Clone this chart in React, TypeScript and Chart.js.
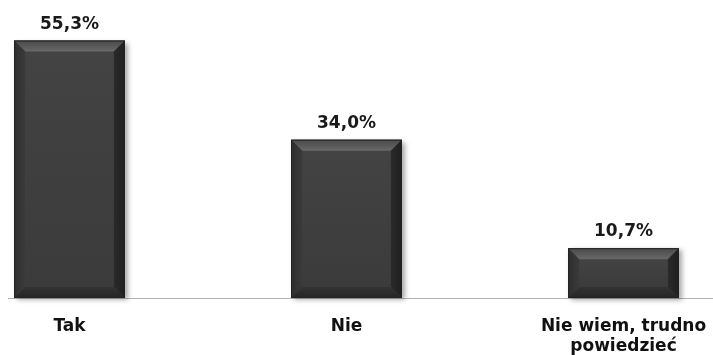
import React, { useEffect, useRef } from "react";
import { Chart, registerables } from "chart.js";

Chart.register(...registerables);

const categories: (string | string[])[] = ["Tak", "Nie", ["Nie wiem, trudno", "powiedzieć"]];
const values: number[] = [55.3, 34.0, 10.7];
const valueLabels: string[] = ["55,3%", "34,0%", "10,7%"];

const FONT = "'DejaVu Sans', sans-serif";

const bevelPlugin = {
  id: "bevel",
  beforeDatasetsDraw(chart: any) {
    const ctx = chart.ctx;
    const meta = chart.getDatasetMeta(0);
    meta.data.forEach((bar: any) => {
      const { x, y, base, width } = bar.getProps(["x", "y", "base", "width"], true);
      const l = x - width / 2;
      ctx.save();
      ctx.shadowColor = "rgba(0,0,0,0.35)";
      ctx.shadowBlur = 5;
      ctx.shadowOffsetX = 3;
      ctx.shadowOffsetY = 2;
      ctx.fillStyle = "#3e3e3e";
      ctx.fillRect(l, y, width, base - y);
      ctx.restore();
    });
  },
  afterDatasetsDraw(chart: any) {
    const ctx = chart.ctx;
    const meta = chart.getDatasetMeta(0);
    meta.data.forEach((bar: any, i: number) => {
      const { x, y, base, width } = bar.getProps(["x", "y", "base", "width"], true);
      const l = x - width / 2;
      const r = x + width / 2;
      const t = y;
      const bt = base;
      const b = 11;
      const poly = (pts: number[][], fill: any) => {
        ctx.beginPath();
        ctx.moveTo(pts[0][0], pts[0][1]);
        for (let k = 1; k < pts.length; k++) ctx.lineTo(pts[k][0], pts[k][1]);
        ctx.closePath();
        ctx.fillStyle = fill;
        ctx.fill();
      };
      ctx.save();
      const gF = ctx.createLinearGradient(0, t + b, 0, bt - b);
      gF.addColorStop(0, "#434343");
      gF.addColorStop(1, "#3b3b3b");
      ctx.fillStyle = gF;
      ctx.fillRect(l + b, t + b, width - 2 * b, bt - t - 2 * b);
      const gTop = ctx.createLinearGradient(0, t, 0, t + b);
      gTop.addColorStop(0, "#4a4a4a");
      gTop.addColorStop(0.7, "#5e5e5e");
      gTop.addColorStop(1, "#6a6a6a");
      poly([[l, t], [r, t], [r - b, t + b], [l + b, t + b]], gTop);
      const gL = ctx.createLinearGradient(l, 0, l + b, 0);
      gL.addColorStop(0, "#2e2e2e");
      gL.addColorStop(1, "#3a3a3a");
      poly([[l, t], [l + b, t + b], [l + b, bt - b], [l, bt]], gL);
      const gR = ctx.createLinearGradient(r - b, 0, r, 0);
      gR.addColorStop(0, "#2a2a2a");
      gR.addColorStop(1, "#1f1f1f");
      poly([[r, t], [r, bt], [r - b, bt - b], [r - b, t + b]], gR);
      const gB = ctx.createLinearGradient(0, bt - b, 0, bt);
      gB.addColorStop(0, "#333333");
      gB.addColorStop(1, "#252525");
      poly([[l, bt], [r, bt], [r - b, bt - b], [l + b, bt - b]], gB);
      ctx.strokeStyle = "#232323";
      ctx.lineWidth = 1;
      ctx.strokeRect(l + 0.5, t + 0.5, width - 1, bt - t - 1);
      ctx.fillStyle = "#1a1a1a";
      ctx.font = `bold 17px ${FONT}`;
      ctx.textAlign = "center";
      ctx.textBaseline = "alphabetic";
      ctx.fillText(valueLabels[i], x, t - 12);
      ctx.restore();
    });
  },
};

export default function App() {
  const ref = useRef<HTMLCanvasElement | null>(null);
  useEffect(() => {
    if (!ref.current) return;
    const chart = new Chart(ref.current, {
      type: "bar",
      data: {
        labels: categories as any,
        datasets: [
          {
            data: values,
            backgroundColor: "rgba(0,0,0,0)",
            borderWidth: 0,
            categoryPercentage: 1,
            barPercentage: 0.4,
          },
        ],
      },
      options: {
        animation: false,
        responsive: false,
        maintainAspectRatio: false,
        layout: { padding: { top: 0, left: 0, right: 0, bottom: 0 } },
        plugins: { legend: { display: false }, tooltip: { enabled: false } },
        scales: {
          x: {
            grid: { display: false, drawTicks: false },
            border: { display: true, color: "#b3b3b3", width: 1 },
            ticks: {
              color: "#111111",
              font: { family: FONT, size: 17, weight: "bold", lineHeight: 1.15 },
              padding: 19,
              maxRotation: 0,
              autoSkip: false,
            },
            afterFit: (s: any) => {
              s.height = 57;
            },
          },
          y: {
            display: false,
            min: 0,
            max: 64,
          },
        },
      },
      plugins: [bevelPlugin],
    });
    return () => chart.destroy();
  }, []);
  return (
    <div
      style={{
        position: "fixed",
        left: 8,
        top: 0,
        width: 705,
        height: 355,
        overflow: "hidden",
        background: "#ffffff",
      }}
    >
      <canvas
        ref={ref}
        width={831}
        height={355}
        style={{ position: "absolute", left: -77, top: 0, width: 831, height: 355 }}
      />
    </div>
  );
}
